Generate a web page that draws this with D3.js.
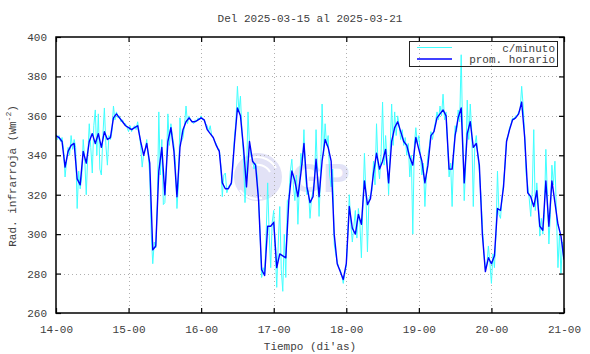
<!DOCTYPE html>
<html>
<head>
<meta charset="utf-8">
<script src="https://cdn.jsdelivr.net/npm/d3@7"></script>
<style>
  body { margin: 0; background: #fff; }
  text { font-family: "Liberation Mono", "DejaVu Sans Mono", monospace; fill: #404040; }
</style>
</head>
<body>
<div id="chart"></div>
<script>
// radiacion infrarroja, 2025-03-15 .. 2025-03-21 (x in hours since 14-00)

var dayTicks = [0, 24, 48, 72, 96, 120, 144, 168];
var dayLabels = ["14-00", "15-00", "16-00", "17-00", "18-00", "19-00", "20-00", "21-00"];
var yTicks = [260, 280, 300, 320, 340, 360, 380, 400];

// prom. horario, one value per hour (hour 0 .. 168)
var hourly = [
  350, 349, 347, 334, 342, 345, 346, 328, 325, 342, 336, 347, 351, 346, 351, 344, 352, 348, 349, 359, 361, 359, 357, 355,
  354, 353, 354, 355, 347, 340, 346, 336, 292, 294, 332, 344, 320, 347, 354, 342, 319, 344, 353, 357, 359, 357, 357, 358,
  359, 358, 353, 351, 349, 345, 342, 326, 323, 323, 326, 346, 364, 360, 344, 324, 347, 337, 335, 317, 282, 279, 304, 304,
  306, 283, 290, 289, 288, 317, 332, 327, 319, 331, 346, 324, 316, 319, 338, 319, 337, 348, 344, 337, 300, 285, 281, 277,
  285, 314, 303, 300, 310, 305, 327, 315, 318, 331, 341, 333, 337, 343, 326, 347, 354, 357, 352, 347, 345, 339, 335, 349,
  343, 337, 326, 335, 350, 352, 359, 361, 363, 360, 333, 333, 350, 359, 364, 326, 351, 357, 344, 346, 335, 300, 281, 288,
  285, 289, 313, 312, 324, 347, 353, 358, 359, 361, 367, 349, 321, 319, 314, 322, 304, 302, 327, 304, 327, 316, 305, 299,
  287
];

// c/minuto, read at two points per hour (hour 0, 0.5, 1, ... 168)
var minute = [
  351, 348, 350, 347, 349, 343, 329, 337, 344, 340, 350, 343, 348, 344, 313, 332, 323, 329, 348, 338,
  320, 340, 356, 344, 331, 355, 363, 340, 361, 333, 330, 350, 364, 345, 335, 350, 348, 352, 365, 358,
  362, 359, 360, 357, 358, 356, 356, 354, 352, 355, 352, 354, 355, 353, 357, 352, 345, 334, 341, 343,
  348, 340, 330, 300, 285, 296, 293, 315, 362, 330, 348, 315, 316, 335, 361, 345, 356, 350, 345, 336,
  313, 325, 359, 347, 349, 355, 365, 356, 360, 358, 357, 356, 358, 357, 359, 358, 360, 358, 358, 356,
  355, 352, 355, 350, 349, 347, 346, 343, 343, 335, 319, 330, 331, 321, 324, 325, 325, 335, 349, 357,
  375, 362, 370, 352, 340, 316, 330, 362, 345, 340, 338, 333, 336, 330, 318, 300, 278, 283, 280, 300,
  326, 300, 283, 306, 312, 292, 273, 295, 314, 282, 271, 300, 278, 317, 318, 332, 338, 325, 317, 330,
  305, 325, 341, 335, 353, 330, 320, 322, 308, 318, 322, 327, 353, 330, 309, 330, 366, 340, 356, 345,
  350, 330, 324, 333, 295, 290, 286, 283, 282, 279, 275, 280, 284, 300, 320, 305, 296, 304, 312, 298,
  313, 305, 288, 315, 341, 320, 291, 318, 320, 322, 337, 325, 356, 335, 328, 340, 367, 335, 350, 338,
  320, 342, 366, 345, 362, 350, 360, 355, 348, 353, 345, 349, 340, 346, 329, 340, 300, 345, 354, 346,
  350, 340, 330, 336, 314, 330, 340, 345, 352, 348, 353, 357, 362, 358, 365, 360, 371, 358, 362, 345,
  329, 336, 314, 340, 355, 352, 363, 357, 391, 350, 317, 335, 368, 348, 366, 352, 314, 345, 350, 340,
  332, 320, 305, 290, 282, 285, 294, 285, 275, 290, 283, 300, 332, 310, 308, 318, 326, 335, 348, 350,
  354, 356, 359, 358, 360, 360, 362, 363, 375, 365, 350, 330, 325, 318, 309, 322, 353, 312, 326, 316,
  299, 308, 300, 310, 343, 320, 295, 310, 335, 325, 337, 310, 283, 300, 280, 296, 288
];

var legendNames = ["c/minuto", "prom. horario"];
var colors = ["#40ffff", "#0000ff"];

var svgWidth = 590;
var svgHeight = 354;
var plot = { left: 56, right: 564, top: 37, bottom: 313 };

var svg = d3.select("#chart")
  .append("svg")
  .attr("width", svgWidth)
  .attr("height", svgHeight);

var x = d3.scaleLinear().domain([0, 168]).range([plot.left, plot.right]);
var y = d3.scaleLinear().domain([260, 400]).range([plot.bottom, plot.top]);

svg.append("clipPath").attr("id", "clip")
  .append("rect")
  .attr("x", plot.left).attr("y", plot.top)
  .attr("width", plot.right - plot.left).attr("height", plot.bottom - plot.top);

// watermark
var wm = svg.append("g");
wm.append("circle").attr("cx", 258).attr("cy", 177).attr("r", 24).attr("fill", "#e2e2f6");
wm.append("path")
  .attr("d", "M246,160 A22,22 0 0,1 276,168 M252,166 A14,14 0 0,1 270,172 M240,190 A20,20 0 0,0 262,198")
  .attr("fill", "none").attr("stroke", "#fff").attr("stroke-width", 2);
wm.append("text").attr("x", 292).attr("y", 192)
  .style("font-family", "'Liberation Sans', Arial, sans-serif")
  .style("font-weight", "bold").style("font-size", "40px")
  .style("fill", "#e2e2f6")
  .text("GP");

// grid
var grid = svg.append("g")
  .attr("stroke", "#b0b0b0").attr("stroke-width", 1).attr("stroke-dasharray", "1,3");
grid.selectAll(".gx").data(dayTicks.slice(1, -1)).enter().append("line")
  .attr("x1", d => Math.round(x(d)) + 0.5).attr("x2", d => Math.round(x(d)) + 0.5)
  .attr("y1", plot.top).attr("y2", plot.bottom);
grid.selectAll(".gy").data(yTicks.slice(1, -1)).enter().append("line")
  .attr("y1", d => Math.round(y(d)) + 0.5).attr("y2", d => Math.round(y(d)) + 0.5)
  .attr("x1", plot.left).attr("x2", plot.right);

// lines
var lineMinute = d3.line().x((d, i) => x(i / 2)).y(d => y(d));
var lineHour = d3.line().x((d, i) => x(i)).y(d => y(d));

var lines = svg.append("g").attr("clip-path", "url(#clip)");
lines.append("path").datum(minute)
  .attr("d", lineMinute).attr("fill", "none")
  .attr("stroke", colors[0]).attr("stroke-width", 1);
lines.append("path").datum(hourly)
  .attr("d", lineHour).attr("fill", "none")
  .attr("stroke", colors[1]).attr("stroke-width", 1.4).attr("stroke-linejoin", "round");

// axes
function styleAxis(g) {
  g.select(".domain").remove();
  g.selectAll(".tick line").attr("stroke", "#000").attr("stroke-width", 1.2);
  g.selectAll(".tick text").style("font-family", "'Liberation Mono', monospace")
    .style("font-size", "11px").attr("fill", "#404040");
}

svg.append("g").attr("transform", `translate(0, ${plot.bottom})`)
  .call(d3.axisBottom(x).tickValues(dayTicks).tickFormat((d, i) => dayLabels[i]).tickSize(-5).tickPadding(12))
  .call(styleAxis);
svg.append("g").attr("transform", `translate(0, ${plot.top})`)
  .call(d3.axisTop(x).tickValues(dayTicks).tickFormat("").tickSize(-5))
  .call(styleAxis);
svg.append("g").attr("transform", `translate(${plot.left}, 0)`)
  .call(d3.axisLeft(y).tickValues(yTicks).tickSize(-5).tickPadding(9))
  .call(styleAxis);
svg.append("g").attr("transform", `translate(${plot.right}, 0)`)
  .call(d3.axisRight(y).tickValues(yTicks).tickFormat("").tickSize(-5))
  .call(styleAxis);

// frame
svg.append("rect")
  .attr("x", plot.left).attr("y", plot.top)
  .attr("width", plot.right - plot.left).attr("height", plot.bottom - plot.top)
  .attr("fill", "none").attr("stroke", "#000").attr("stroke-width", 1.5);

// legend
var legend = svg.append("g");
legend.append("rect")
  .attr("x", 409.5).attr("y", 41.5).attr("width", 148).attr("height", 25)
  .attr("fill", "none").attr("stroke", "#222").attr("stroke-width", 1);
legendNames.forEach(function(name, i) {
  var ly = 47.5 + i * 11.5;
  legend.append("line")
    .attr("x1", 417).attr("x2", 452).attr("y1", ly).attr("y2", ly)
    .attr("stroke", colors[i]).attr("stroke-width", i ? 1.4 : 1);
  legend.append("text")
    .attr("x", 555).attr("y", ly + 4)
    .attr("text-anchor", "end")
    .style("font-size", "11px")
    .text(name);
});

// titles
svg.append("text")
  .attr("x", 310).attr("y", 22)
  .attr("text-anchor", "middle")
  .style("font-size", "11px")
  .text("Del 2025-03-15 al 2025-03-21");

svg.append("text")
  .attr("x", 310).attr("y", 350)
  .attr("text-anchor", "middle")
  .style("font-size", "11px")
  .text("Tiempo (di'as)");

var yl = svg.append("text")
  .attr("transform", "translate(16, 176) rotate(-90)")
  .attr("text-anchor", "middle")
  .style("font-size", "11px");
yl.append("tspan").text("Rad. infrarroja (Wm");
yl.append("tspan").attr("dy", -5).style("font-size", "8px").text("-2");
yl.append("tspan").attr("dy", 5).text(")");
</script>
</body>
</html>
